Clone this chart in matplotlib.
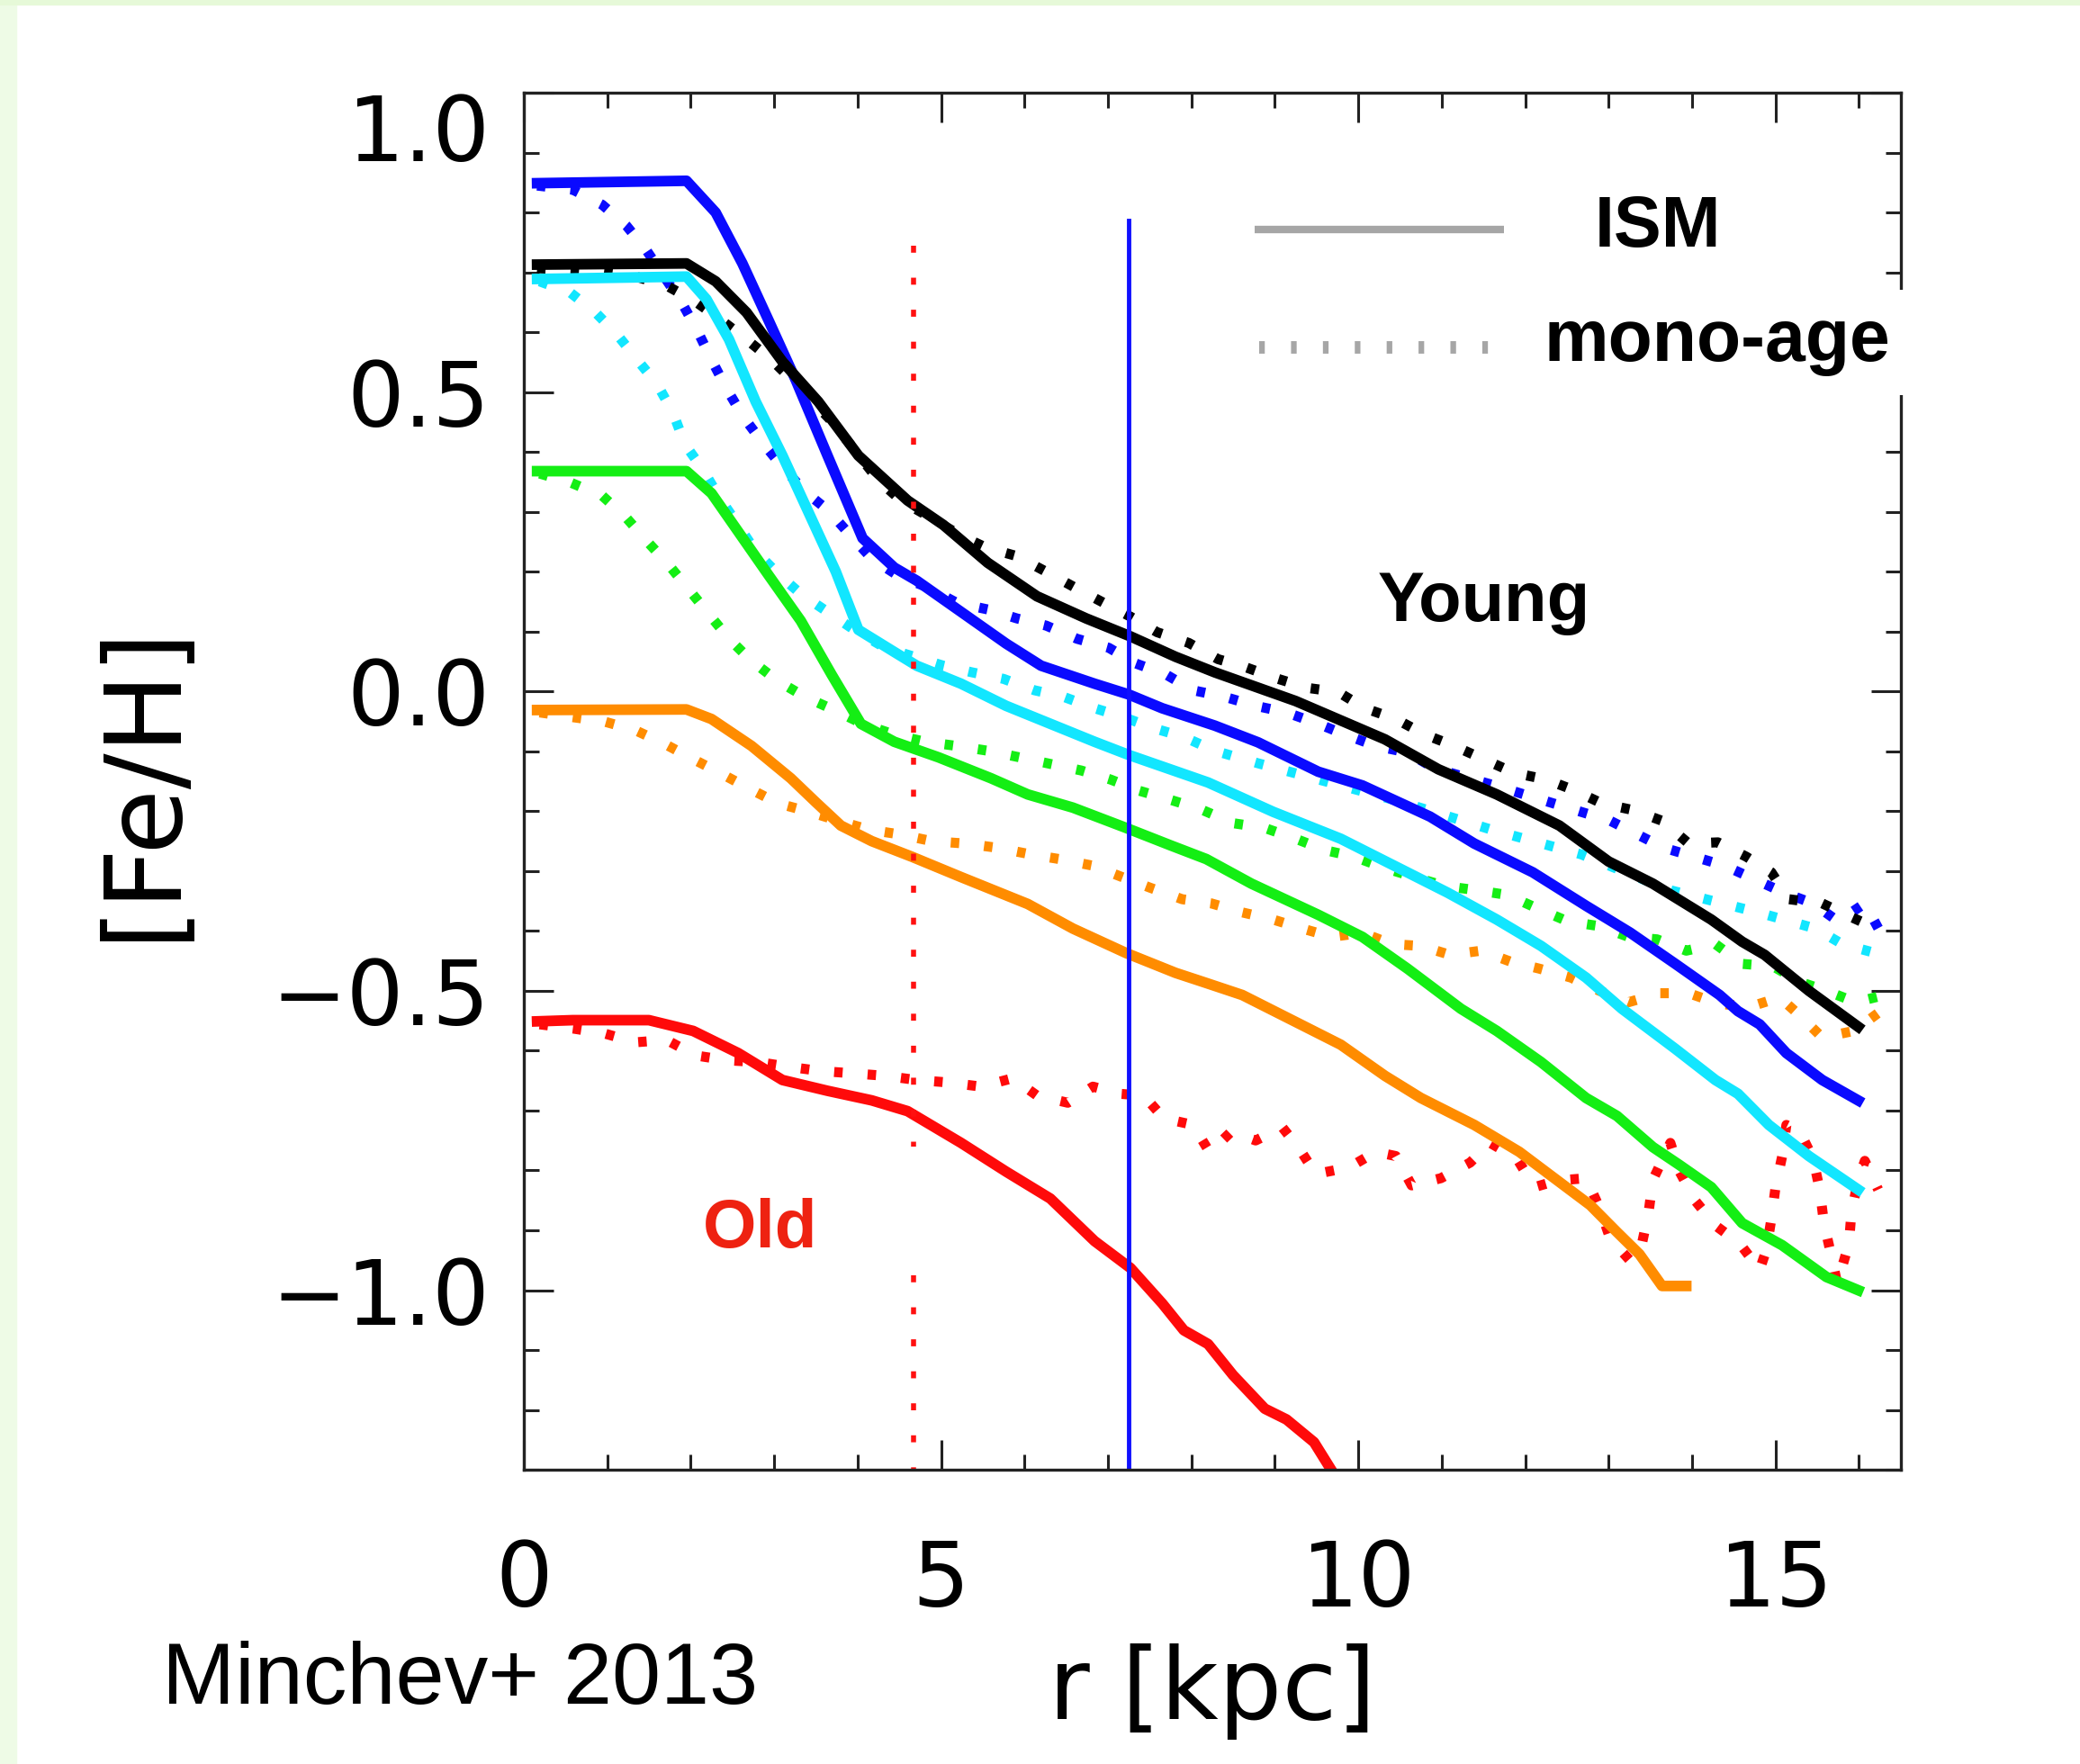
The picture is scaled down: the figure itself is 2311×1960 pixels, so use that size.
import numpy as np
import matplotlib
matplotlib.use('Agg')
import matplotlib.pyplot as plt
from matplotlib.patches import Rectangle
from matplotlib.ticker import MultipleLocator, FixedLocator, FixedFormatter

#radial metallicity profiles read off Minchev+ 2013 (ISM = solid, mono-age = dotted)
#age bins go from young (black) to old (red)

#ISM profiles
r_ism_black = [0.16, 1.95, 2.30, 2.67, 3.1, 3.53, 4.01, 4.6, 5.03, 5.56, 6.15, 6.74, 7.27, 7.81, 8.28, 9.25, 10.32, 10.96, 11.66, 12.41, 13.0, 13.53, 14.23, 14.6, 14.87, 15.4, 15.99]
fe_ism_black = [0.713, 0.715, 0.685, 0.633, 0.551, 0.484, 0.394, 0.319, 0.278, 0.215, 0.159, 0.122, 0.092, 0.058, 0.032, -0.016, -0.08, -0.13, -0.172, -0.224, -0.284, -0.321, -0.381, -0.418, -0.44, -0.5, -0.56]

r_ism_blue = [0.16, 1.95, 2.30, 2.62, 2.94, 3.26, 3.64, 4.06, 4.44, 4.71, 5.24, 5.78, 6.2, 6.84, 7.25, 7.65, 8.28, 8.8, 9.52, 10.05, 10.86, 11.39, 12.09, 12.73, 13.26, 13.8, 14.33, 14.55, 14.81, 15.13, 15.56, 15.99]
fe_ism_blue = [0.849, 0.853, 0.80, 0.715, 0.618, 0.52, 0.394, 0.256, 0.207, 0.185, 0.133, 0.08, 0.043, 0.013, -0.005, -0.028, -0.057, -0.085, -0.134, -0.157, -0.209, -0.254, -0.302, -0.358, -0.403, -0.455, -0.507, -0.534, -0.556, -0.604, -0.649, -0.683]

r_ism_cyan = [0.16, 1.95, 2.19, 2.46, 2.78, 3.1, 3.42, 3.74, 4.01, 4.44, 4.71, 5.24, 5.78, 6.31, 6.84, 7.25, 8.2, 8.98, 9.79, 10.43, 11.07, 11.66, 12.19, 12.73, 13.16, 13.37, 13.8, 14.28, 14.55, 14.92, 15.4, 15.99]
fe_ism_cyan = [0.689, 0.693, 0.655, 0.588, 0.484, 0.394, 0.297, 0.2, 0.103, 0.066, 0.043, 0.013, -0.024, -0.054, -0.084, -0.106, -0.152, -0.201, -0.246, -0.291, -0.336, -0.381, -0.425, -0.478, -0.53, -0.552, -0.597, -0.649, -0.672, -0.724, -0.776, -0.832]

r_ism_green = [0.16, 1.95, 2.25, 2.57, 2.94, 3.32, 3.69, 4.04, 4.44, 4.97, 5.6, 6.04, 6.58, 7.22, 7.75, 8.18, 8.72, 9.52, 10.05, 10.59, 11.23, 11.66, 12.19, 12.73, 13.1, 13.53, 13.85, 14.23, 14.6, 15.08, 15.61, 15.99]
fe_ism_green = [0.368, 0.368, 0.331, 0.267, 0.193, 0.118, 0.028, -0.054, -0.084, -0.11, -0.145, -0.172, -0.194, -0.228, -0.257, -0.28, -0.321, -0.373, -0.41, -0.463, -0.53, -0.567, -0.619, -0.679, -0.709, -0.761, -0.791, -0.828, -0.888, -0.925, -0.978, -1.0]

r_ism_orange = [0.16, 1.95, 2.25, 2.73, 3.2, 3.5, 3.8, 4.17, 4.65, 5.24, 6.04, 6.58, 7.22, 7.81, 8.18, 8.61, 9.25, 9.79, 10.32, 10.75, 11.39, 11.93, 12.35, 12.78, 13.1, 13.37, 13.64, 13.93]
fe_ism_orange = [-0.031, -0.03, -0.046, -0.091, -0.145, -0.185, -0.224, -0.25, -0.276, -0.31, -0.355, -0.396, -0.437, -0.47, -0.487, -0.507, -0.552, -0.59, -0.642, -0.679, -0.724, -0.769, -0.813, -0.858, -0.903, -0.94, -0.993, -0.993]

r_ism_red = [0.16, 0.59, 1.5, 2.03, 2.57, 3.1, 3.64, 4.17, 4.6, 5.24, 5.78, 6.31, 6.84, 7.27, 7.65, 7.91, 8.2, 8.5, 8.88, 9.14, 9.47, 9.72]
fe_ism_red = [-0.551, -0.549, -0.549, -0.567, -0.604, -0.649, -0.667, -0.683, -0.701, -0.754, -0.802, -0.847, -0.918, -0.963, -1.022, -1.067, -1.09, -1.142, -1.198, -1.216, -1.254, -1.31]

#mono-age profiles
r_age_black = [0.16, 0.59, 0.96, 1.34, 1.71, 2.06, 2.35, 2.67, 2.97, 3.24, 3.7, 4.25, 4.52, 4.88, 5.24, 5.53, 5.91, 6.26, 6.6, 6.95, 7.27, 7.59, 7.97, 8.32, 8.66, 9.04, 9.39, 9.76, 10.08, 10.45, 10.8, 11.15, 11.5, 11.87, 12.25, 12.57, 12.92, 13.29, 13.64, 13.96, 14.31, 14.65, 14.95, 15.16, 15.56, 15.91, 16.26]
fe_age_black = [0.707, 0.704, 0.7, 0.693, 0.678, 0.651, 0.622, 0.588, 0.554, 0.517, 0.45, 0.353, 0.319, 0.29, 0.26, 0.241, 0.226, 0.2, 0.174, 0.148, 0.125, 0.099, 0.081, 0.054, 0.04, 0.021, 0.006, -0.001, -0.028, -0.046, -0.072, -0.091, -0.113, -0.136, -0.147, -0.164, -0.187, -0.198, -0.216, -0.254, -0.252, -0.276, -0.302, -0.347, -0.354, -0.377, -0.399]

r_age_blue = [0.16, 0.59, 0.94, 1.23, 1.47, 1.9, 2.09, 2.25, 2.43, 2.62, 2.86, 3.1, 3.37, 3.66, 3.9, 4.17, 4.49, 4.84, 5.19, 5.56, 5.91, 6.26, 6.63, 7.01, 7.33, 7.7, 8.02, 8.4, 8.77, 9.14, 9.52, 9.84, 10.21, 10.59, 10.91, 11.28, 11.66, 12.41, 13.02, 13.66, 14.39, 15.1, 15.45, 15.75, 16.07, 16.26]
fe_age_blue = [0.845, 0.838, 0.813, 0.778, 0.737, 0.648, 0.6, 0.554, 0.506, 0.461, 0.416, 0.375, 0.334, 0.301, 0.263, 0.222, 0.193, 0.174, 0.148, 0.137, 0.122, 0.11, 0.088, 0.073, 0.047, 0.028, 0.002, -0.009, -0.024, -0.035, -0.054, -0.072, -0.091, -0.102, -0.128, -0.143, -0.158, -0.19, -0.216, -0.261, -0.291, -0.336, -0.354, -0.384, -0.354, -0.403]

r_age_cyan = [0.19, 0.56, 0.86, 1.12, 1.36, 1.6, 1.79, 1.93, 2.14, 2.35, 2.57, 2.78, 3.05, 3.32, 3.64, 3.96, 4.33, 4.68, 5.03, 5.37, 5.75, 6.12, 6.47, 6.84, 7.19, 7.54, 7.91, 8.28, 8.8, 9.39, 10.48, 11.6, 12.67, 13.74, 14.79, 15.48, 15.8, 16.2]
fe_age_cyan = [0.685, 0.666, 0.633, 0.596, 0.554, 0.513, 0.465, 0.413, 0.372, 0.323, 0.278, 0.234, 0.196, 0.163, 0.133, 0.103, 0.073, 0.058, 0.043, 0.032, 0.021, 0.002, -0.009, -0.028, -0.043, -0.061, -0.076, -0.099, -0.12, -0.142, -0.183, -0.231, -0.272, -0.332, -0.369, -0.396, -0.422, -0.437]

r_age_green = [0.19, 0.56, 0.94, 1.23, 1.47, 1.74, 1.98, 2.22, 2.46, 2.73, 3.05, 3.37, 3.72, 4.06, 4.44, 4.81, 5.19, 5.56, 5.94, 6.31, 6.68, 7.03, 7.38, 7.75, 8.1, 8.5, 8.88, 9.25, 9.6, 9.95, 10.32, 10.67, 11.04, 11.42, 11.79, 12.14, 12.51, 12.89, 13.24, 13.58, 13.93, 14.28, 14.6, 14.97, 15.29, 15.61, 15.96, 16.31]
fe_age_green = [0.364, 0.349, 0.327, 0.29, 0.252, 0.211, 0.17, 0.129, 0.088, 0.051, 0.017, -0.009, -0.031, -0.054, -0.072, -0.084, -0.091, -0.099, -0.11, -0.121, -0.132, -0.147, -0.166, -0.181, -0.196, -0.22, -0.228, -0.246, -0.265, -0.276, -0.295, -0.31, -0.325, -0.332, -0.34, -0.362, -0.384, -0.392, -0.41, -0.414, -0.433, -0.422, -0.455, -0.459, -0.485, -0.5, -0.519, -0.507]

r_age_orange = [0.19, 0.59, 0.96, 1.34, 1.68, 2.03, 2.35, 2.7, 3.05, 3.42, 3.77, 4.14, 4.52, 4.89, 5.29, 5.67, 6.07, 6.42, 6.82, 7.17, 7.51, 7.89, 8.24, 8.61, 8.98, 9.33, 9.68, 10.05, 10.4, 10.75, 11.1, 11.47, 11.82, 12.17, 12.55, 12.89, 13.24, 13.61, 13.96, 14.33, 14.71, 15.05, 15.29, 15.56, 15.94, 16.26]
fe_age_orange = [-0.035, -0.043, -0.05, -0.065, -0.087, -0.113, -0.136, -0.162, -0.187, -0.201, -0.216, -0.231, -0.239, -0.25, -0.254, -0.261, -0.272, -0.28, -0.291, -0.31, -0.328, -0.347, -0.354, -0.369, -0.381, -0.396, -0.41, -0.403, -0.422, -0.425, -0.44, -0.433, -0.451, -0.463, -0.478, -0.5, -0.519, -0.504, -0.504, -0.522, -0.526, -0.511, -0.541, -0.578, -0.567, -0.534]

r_age_red = [0.19, 0.59, 0.96, 1.34, 1.71, 2.06, 2.43, 2.81, 3.18, 3.56, 3.96, 4.33, 4.71, 5.08, 5.48, 5.86, 6.15, 6.52, 6.82, 7.14, 7.43, 7.67, 8.02, 8.22, 8.48, 8.77, 9.09, 9.3, 9.49, 9.89, 10.21, 10.45, 10.64, 10.99, 11.34, 11.58, 11.9, 12.11, 12.38, 12.73, 12.89, 13.02, 13.26, 13.4, 13.48, 13.53, 13.74, 13.85, 14.04, 14.28, 14.57, 14.81, 14.89, 14.95, 15.0, 15.08, 15.13, 15.29, 15.45, 15.53, 15.58, 15.66, 15.74, 15.88, 15.91, 15.99, 16.07, 16.23]
fe_age_red = [-0.556, -0.563, -0.571, -0.586, -0.582, -0.608, -0.616, -0.619, -0.627, -0.634, -0.638, -0.642, -0.649, -0.653, -0.66, -0.646, -0.675, -0.687, -0.66, -0.672, -0.675, -0.713, -0.724, -0.77, -0.735, -0.75, -0.728, -0.765, -0.806, -0.795, -0.769, -0.776, -0.825, -0.813, -0.787, -0.754, -0.78, -0.828, -0.817, -0.813, -0.862, -0.914, -0.951, -0.922, -0.869, -0.816, -0.754, -0.802, -0.851, -0.892, -0.922, -0.966, -0.933, -0.881, -0.828, -0.776, -0.724, -0.735, -0.78, -0.832, -0.888, -0.937, -0.989, -0.922, -0.869, -0.817, -0.784, -0.832]

#vertical guide lines (radius, top, bottom of each piece)
r_guide_red = 4.67
fe_guide_red = [[0.745, -0.76], [-0.975, -1.3]]
r_guide_blue = 7.25
fe_guide_blue = [0.786, -1.3]

colors = {'black': '#000000', 'blue': '#0a0aff', 'cyan': '#12e6ff',
          'green': '#14ee14', 'orange': '#ff8c00', 'red': '#ff0a0a'}

ism = [('red', r_ism_red, fe_ism_red), ('orange', r_ism_orange, fe_ism_orange),
       ('green', r_ism_green, fe_ism_green), ('cyan', r_ism_cyan, fe_ism_cyan),
       ('blue', r_ism_blue, fe_ism_blue), ('black', r_ism_black, fe_ism_black)]
mono = [('red', r_age_red, fe_age_red), ('orange', r_age_orange, fe_age_orange),
        ('green', r_age_green, fe_age_green), ('cyan', r_age_cyan, fe_age_cyan),
        ('blue', r_age_blue, fe_age_blue), ('black', r_age_black, fe_age_black)]

plt.rcParams['font.family'] = 'DejaVu Sans'

fig = plt.figure(figsize=(23.11, 19.60), dpi=100)
fig.patch.set_facecolor('white')
#thin light green frame of the slide
fig.patches.append(Rectangle((0, 0), 0.0078, 1, transform=fig.transFigure, color='#eefbe6', zorder=0))
fig.patches.append(Rectangle((0, 0.9974), 1, 0.0026, transform=fig.transFigure, color='#e6f9d8', zorder=0))

ax = fig.add_axes([0.2518, 0.1668, 0.662, 0.7806])
ax.set_facecolor('none')

for name, r, fe in mono:
	ax.plot(r, fe, color=colors[name], lw=8, linestyle=(0, (0.85, 2.5)), zorder=2)
for name, r, fe in ism:
	ax.plot(r, fe, color=colors[name], lw=8.5, solid_joinstyle='round', zorder=2.2)

for seg in fe_guide_red:
	ax.plot([r_guide_red, r_guide_red], seg, color='#ff1010', lw=4, linestyle=(0, (1.4, 5.0)), zorder=2.4)
ax.plot([r_guide_blue, r_guide_blue], fe_guide_blue, color='#1010ff', lw=3.5, zorder=2.4)

ax.set_xlim(0, 16.5)
ax.set_ylim(-1.3, 1.0)

ax.xaxis.set_major_locator(FixedLocator([0, 5, 10, 15]))
ax.xaxis.set_major_formatter(FixedFormatter(['0', '5', '10', '15']))
ax.xaxis.set_minor_locator(MultipleLocator(1))
ax.yaxis.set_major_locator(FixedLocator([-1.0, -0.5, 0.0, 0.5, 1.0]))
ax.yaxis.set_major_formatter(FixedFormatter(['\u22121.0', '\u22120.5', '0.0', '0.5', '1.0']))
ax.yaxis.set_minor_locator(MultipleLocator(0.1))

ax.tick_params(which='both', direction='in', top=True, right=True, width=2.2, color='#222222')
ax.tick_params(which='major', length=24, labelsize=72)
ax.tick_params(which='minor', length=12)
ax.tick_params(axis='y', which='major', pad=27)
ax.tick_params(axis='x', which='major', pad=55)
for s in ax.spines.values():
	s.set_linewidth(2.4)
	s.set_color('#222222')

#top label sits below the tick, like the original
fig.canvas.draw()
for lab in ax.get_yticklabels():
	if lab.get_text() == '1.0':
		lab.set_va('top')

ax.set_ylabel('[Fe/H]', fontsize=85, va='center')
ax.yaxis.set_label_coords(-0.276, 0.5)
ax.set_xlabel('r [kpc]', fontsize=80, va='center')
ax.xaxis.set_label_coords(0.5, -0.161)

#legend drawn by hand
ax.plot([0.531, 0.712], [0.901, 0.901], transform=ax.transAxes, color='#a6a6a6', lw=6, solid_capstyle='butt', clip_on=False)
ax.plot([0.534, 0.705], [0.815, 0.815], transform=ax.transAxes, color='#a6a6a6', lw=10, linestyle=(0, (0.45, 2.1)), clip_on=False)
ax.text(0.778, 0.888, 'ISM', transform=ax.transAxes, fontsize=57, fontweight='bold',
	family='Liberation Sans', va='baseline', ha='left')
ax.text(0.741, 0.805, 'mono-age', transform=ax.transAxes, fontsize=58, fontweight='bold',
	family='Liberation Sans', va='baseline', ha='left', zorder=5,
	bbox=dict(boxstyle='square,pad=0.25', facecolor='white', edgecolor='none'))

ax.text(10.23, 0.117, 'Young', fontsize=56, fontweight='bold', family='Liberation Sans', va='baseline', ha='left')
ax.text(2.15, -0.928, 'Old', fontsize=55, fontweight='bold', family='Liberation Sans', color='#ee2211', va='baseline', ha='left')

fig.text(0.078, 0.034, 'Minchev+ 2013', fontsize=70, family='Liberation Sans', va='baseline', ha='left')

fig.savefig('out.png', dpi=100)
